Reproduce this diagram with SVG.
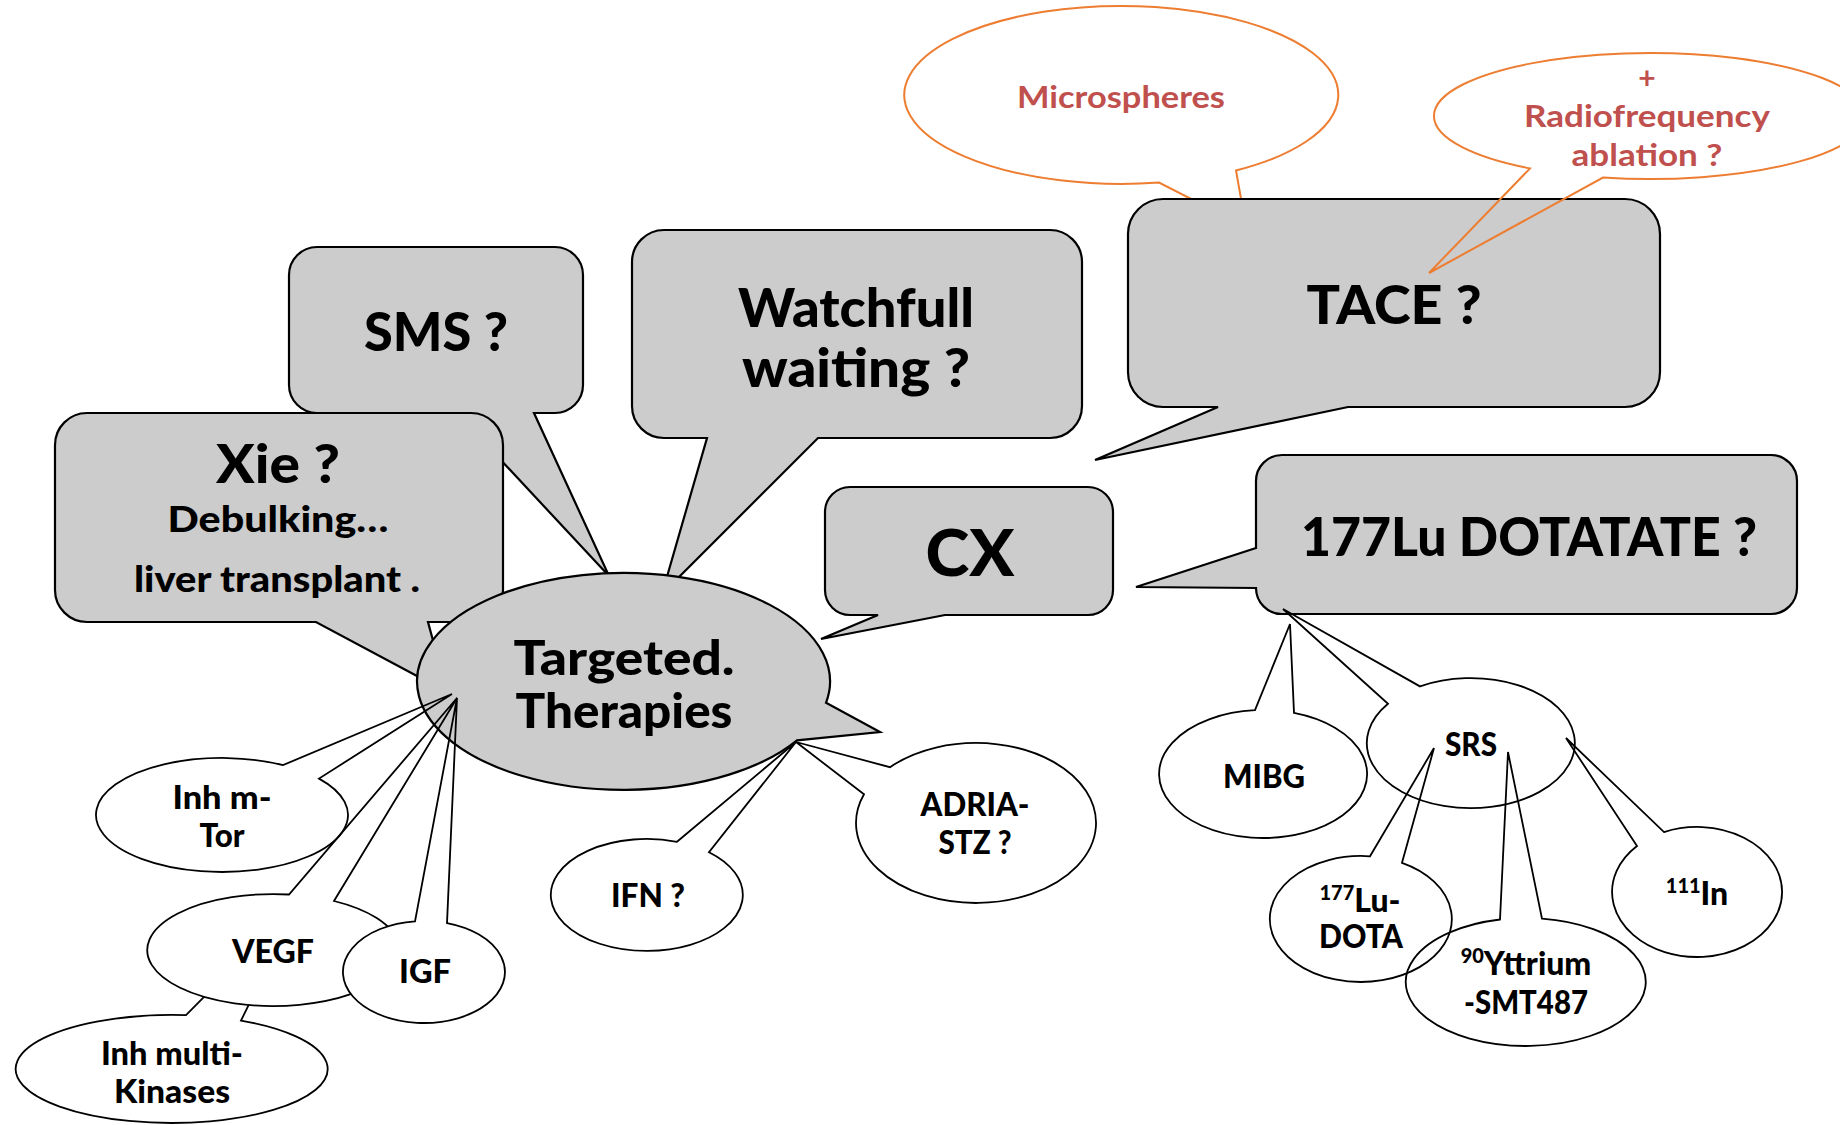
<svg xmlns="http://www.w3.org/2000/svg" width="1840" height="1125" viewBox="0 0 1840 1125">
<style>
.box{fill:#CCCCCC;stroke:#000;stroke-width:2.2;stroke-linejoin:miter}
.bub{fill:none;stroke:#000;stroke-width:1.8}
.body{fill:#fff;stroke:none}
.orb{fill:#fff;stroke:#ED7D31;stroke-width:2}
.orn{fill:none;stroke:#ED7D31;stroke-width:2}
text{font-family:Lato,"Liberation Sans",sans-serif;font-weight:900;text-anchor:middle;fill:#000}
.big{font-size:53px}
.mid{font-size:36px}
.sm{font-size:32px}
.red{font-size:30px;fill:#C0504D;font-weight:700}
.sup{font-size:20px}
</style>
<rect width="1840" height="1125" fill="#fff"/>

<g id="sms">
<path class="box" d="M317,247 H555 A28,28 0 0 1 583,275 V385 A28,28 0 0 1 555,413 H534 L609,576 L457,413 H317 A28,28 0 0 1 289,385 V275 A28,28 0 0 1 317,247 Z"/>
<text class="big" x="436" y="351" textLength="144" lengthAdjust="spacingAndGlyphs">SMS ?</text>
</g>

<g id="xie">
<path class="box" d="M87,413 H471 A32,32 0 0 1 503,445 V590 A32,32 0 0 1 471,622 H428 L447,692 L316,622 H87 A32,32 0 0 1 55,590 V445 A32,32 0 0 1 87,413 Z"/>
<text class="big" x="278" y="483" textLength="124" lengthAdjust="spacingAndGlyphs">Xie ?</text>
<text class="mid" x="278" y="532" textLength="221" lengthAdjust="spacingAndGlyphs">Debulking…</text>
<text class="mid" x="277" y="592" textLength="286" lengthAdjust="spacingAndGlyphs">liver transplant .</text>
</g>

<g id="watchfull">
<path class="box" d="M664,230 H1050 A32,32 0 0 1 1082,262 V406 A32,32 0 0 1 1050,438 H818 L662,594 L707,438 H664 A32,32 0 0 1 632,406 V262 A32,32 0 0 1 664,230 Z"/>
<text class="big" x="856" y="327" textLength="236" lengthAdjust="spacingAndGlyphs">Watchfull</text>
<text class="big" x="856" y="387" textLength="228" lengthAdjust="spacingAndGlyphs">waiting ?</text>
</g>

<g id="microspheres">
<path class="orb" d="M1236,170.5 A217,89 0 1 0 1159,182.6 L1246,227 Z"/>
<text class="red" x="1121" y="108" textLength="208" lengthAdjust="spacingAndGlyphs">Microspheres</text>
</g>

<g id="tace">
<path class="box" d="M1163,199 H1625 A35,35 0 0 1 1660,234 V372 A35,35 0 0 1 1625,407 H1348 L1095,460 L1218,407 H1163 A35,35 0 0 1 1128,372 V234 A35,35 0 0 1 1163,199 Z"/>
<text class="big" x="1394" y="324" textLength="175" lengthAdjust="spacingAndGlyphs">TACE ?</text>
</g>

<g id="rfa">
<path class="orn" d="M1603,177.5 A216,63 0 1 0 1530,168.4 L1429,273 Z"/>
<text class="red" x="1647" y="89">+</text>
<text class="red" x="1647" y="127" textLength="246" lengthAdjust="spacingAndGlyphs">Radiofrequency</text>
<text class="red" x="1647" y="166" textLength="151" lengthAdjust="spacingAndGlyphs">ablation ?</text>
</g>

<g id="cx">
<path class="box" d="M850,487 H1088 A25,25 0 0 1 1113,512 V590 A25,25 0 0 1 1088,615 H945 L821,639 L878,615 H850 A25,25 0 0 1 825,590 V512 A25,25 0 0 1 850,487 Z"/>
<text x="970" y="576" style="font-size:65px" textLength="89" lengthAdjust="spacingAndGlyphs">CX</text>
</g>

<g id="lu177">
<path class="box" d="M1282,455 H1771 A26,26 0 0 1 1797,481 V588 A26,26 0 0 1 1771,614 H1282 A26,26 0 0 1 1256,588 L1136,587 L1256,548 V481 A26,26 0 0 1 1282,455 Z"/>
<text class="big" x="1529" y="556" textLength="456" lengthAdjust="spacingAndGlyphs">177Lu DOTATATE ?</text>
</g>

<g id="targeted">
<path class="box" d="M826,702.8 A206.5,108.5 0 1 0 797,740.3 L880,732 Z"/>
<text x="624" y="675" style="font-size:48px" textLength="221" lengthAdjust="spacingAndGlyphs">Targeted.</text>
<text x="624" y="728" style="font-size:48px" textLength="217" lengthAdjust="spacingAndGlyphs">Therapies</text>
</g>

<g id="inh-mtor">
<path class="bub" d="M283,765.1 A126,57 0 1 0 319,778.6 L452,694 Z"/>
<text class="sm" x="222" y="809" textLength="99" lengthAdjust="spacingAndGlyphs">Inh m-</text>
<text class="sm" x="222" y="847" textLength="45" lengthAdjust="spacingAndGlyphs">Tor</text>
</g>

<g id="inh-multi">
<path class="bub" d="M186,1015.2 A156,54 0 1 0 241,1020.6 L300,900 Z"/>
<text class="sm" x="172" y="1065" textLength="142" lengthAdjust="spacingAndGlyphs">Inh multi-</text>
<text class="sm" x="172" y="1103" textLength="116" lengthAdjust="spacingAndGlyphs">Kinases</text>
</g>

<g id="vegf">
<ellipse class="body" cx="273" cy="950" rx="126" ry="56"/>
<path class="bub" d="M289,894.5 A126,56 0 1 0 334,901 L457,698 Z"/>
<text class="sm" x="273" y="963" textLength="82" lengthAdjust="spacingAndGlyphs">VEGF</text>
</g>

<g id="igf">
<ellipse class="body" cx="424" cy="972" rx="81" ry="51"/>
<path class="bub" d="M415,921.3 A81,51 0 1 0 447,923.1 L457,698 Z"/>
<text class="sm" x="425" y="983" textLength="52" lengthAdjust="spacingAndGlyphs">IGF</text>
</g>

<g id="ifn">
<path class="bub" d="M677,841.8 A96,56 0 1 0 709,852.3 L796,742 Z"/>
<text class="sm" x="648" y="907" textLength="74" lengthAdjust="spacingAndGlyphs">IFN ?</text>
</g>

<g id="adria">
<path class="bub" d="M864,794.3 A120,80 0 1 0 890,767.2 L796,742 Z"/>
<text class="sm" x="975" y="816" textLength="109" lengthAdjust="spacingAndGlyphs">ADRIA-</text>
<text class="sm" x="975" y="854" textLength="73" lengthAdjust="spacingAndGlyphs">STZ ?</text>
</g>

<g id="mibg">
<path class="bub" d="M1255,710.2 A104,64 0 1 0 1294,712.9 L1290,624 Z"/>
<text class="sm" x="1264" y="788" textLength="82" lengthAdjust="spacingAndGlyphs">MIBG</text>
</g>

<g id="srs">
<path class="bub" d="M1388,703.8 A104,65 0 1 0 1420,686.4 L1283,609 Z"/>
<text class="sm" x="1471" y="756" textLength="52" lengthAdjust="spacingAndGlyphs">SRS</text>
</g>

<g id="lu-dota">
<path class="bub" d="M1370,856.3 A91,63 0 1 0 1402,862.8 L1434,748 Z"/>
<text class="sm" x="1360" y="912"><tspan class="sup" dy="-12">177</tspan><tspan dy="12">Lu-</tspan></text>
<text class="sm" x="1361" y="948" textLength="84" lengthAdjust="spacingAndGlyphs">DOTA</text>
</g>

<g id="yttrium">
<path class="bub" d="M1500,919.5 A120,64 0 1 0 1542,918.6 L1508,752 Z"/>
<text class="sm" x="1526" y="975"><tspan class="sup" dy="-12">90</tspan><tspan dy="12">Yttrium</tspan></text>
<text class="sm" x="1526" y="1014" textLength="124" lengthAdjust="spacingAndGlyphs">-SMT487</text>
</g>

<g id="in111">
<path class="bub" d="M1637,846 A85,65 0 1 0 1664,832.1 L1566,738 Z"/>
<text class="sm" x="1697" y="905"><tspan class="sup" dy="-12">111</tspan><tspan dy="12">In</tspan></text>
</g>
</svg>
